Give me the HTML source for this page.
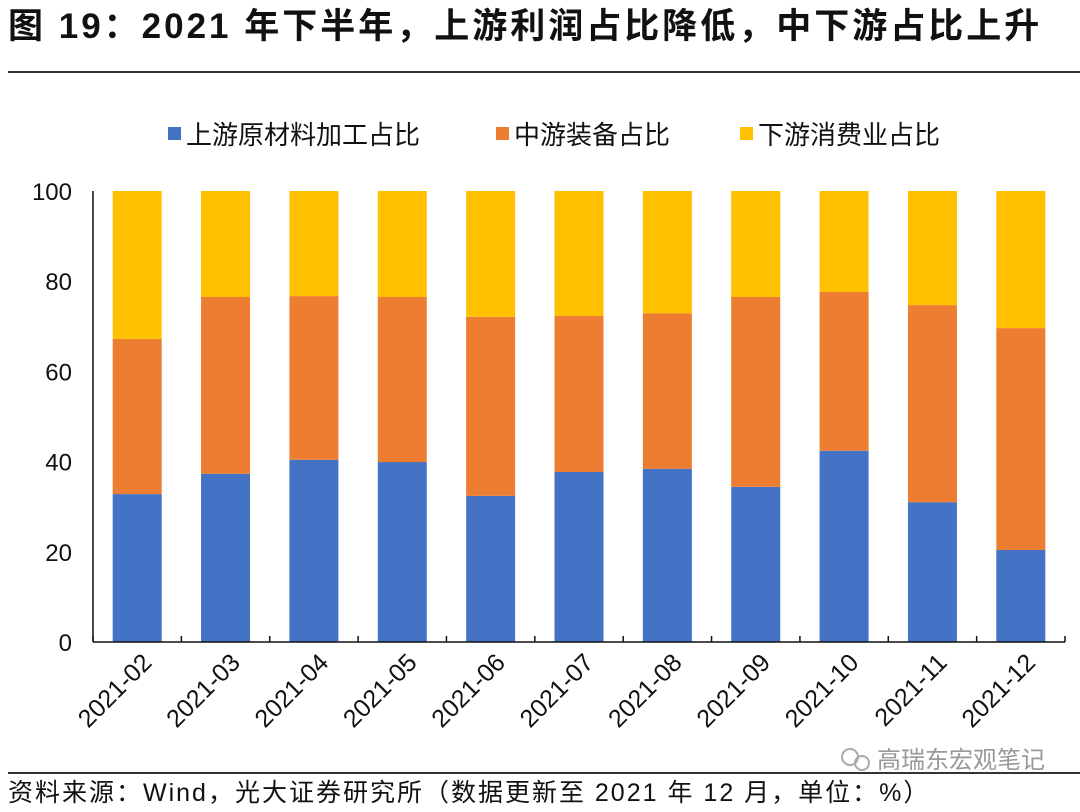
<!DOCTYPE html>
<html><head><meta charset="utf-8"><style>
body{margin:0;background:#fff;width:1080px;height:807px;overflow:hidden;font-family:"Liberation Sans","Noto Sans CJK SC",sans-serif;}
</style></head><body>
<svg width="1080" height="807" xmlns="http://www.w3.org/2000/svg" style="font-family:'Liberation Sans','Noto Sans CJK SC',sans-serif">
<text x="8" y="38" font-size="35" font-weight="bold" fill="#111" letter-spacing="3">图 19：2021 年下半年，上游利润占比降低，中下游占比上升</text>
<line x1="8" y1="72" x2="1080" y2="72" stroke="#333" stroke-width="2"/>
<g id="legend">
<rect x="168" y="127" width="13" height="13" fill="#4472C4"/>
<text x="186" y="144" font-size="26" fill="#111">上游原材料加工占比</text>
<rect x="496" y="127" width="13" height="13" fill="#ED7D31"/>
<text x="514" y="144" font-size="26" fill="#111">中游装备占比</text>
<rect x="740" y="127" width="13" height="13" fill="#FFC000"/>
<text x="758" y="144" font-size="26" fill="#111">下游消费业占比</text>
</g>
<g id="plot"></g>
<line x1="8" y1="773" x2="1080" y2="773" stroke="#333" stroke-width="2"/>
<text x="8" y="801" font-size="25" fill="#111" letter-spacing="2">资料来源：Wind，光大证券研究所（数据更新至 2021 年 12 月，单位：%）</text>
<g>
<circle cx="850" cy="757" r="8" fill="none" stroke="#aaa" stroke-width="2"/>
<circle cx="862" cy="763" r="7" fill="none" stroke="#aaa" stroke-width="2"/>
<text x="877" y="768" font-size="24" fill="#999">高瑞东宏观笔记</text>
</g>
</svg>
<script>
const categories=["2021-02","2021-03","2021-04","2021-05","2021-06","2021-07","2021-08","2021-09","2021-10","2021-11","2021-12"];
const upstream=[32.8,37.3,40.4,39.9,32.4,37.7,38.4,34.4,42.4,31.0,20.4];
const midstream=[34.4,39.2,36.3,36.6,39.7,34.6,34.5,42.1,35.2,43.7,49.2];
const downstream=[32.8,23.5,23.3,23.5,27.9,27.7,27.1,23.5,22.4,25.3,30.4];
const yTicks=[0,20,40,60,80,100];
const NS="http://www.w3.org/2000/svg";
const plot=document.getElementById('plot');
const x0=93,x1=1065,yb=642,yt=191,yMax=100;
const step=(x1-x0)/categories.length,bw=49;
const y=v=>yb-(v/yMax)*(yb-yt);
const xc=i=>x0+step*(i+0.5);
function mk(t,a){const e=document.createElementNS(NS,t);for(const k in a)e.setAttribute(k,a[k]);plot.appendChild(e);return e;}
yTicks.forEach(v=>{const t=mk('text',{x:72,y:y(v)+9,'font-size':24,'text-anchor':'end',fill:'#111'});t.textContent=v;

});
const series=[[upstream,'#4472C4','upstream'],[midstream,'#ED7D31','midstream'],[downstream,'#FFC000','downstream']];
categories.forEach((c,i)=>{let base=0;
series.forEach(([arr,col,nm])=>{const v=arr[i];const r=mk('rect',{x:xc(i)-bw/2,y:y(base+v),width:bw,height:y(base)-y(base+v),fill:col});


base+=v;});
const t=mk('text',{transform:`translate(${xc(i)+16},${yb+22}) rotate(-45)`,'font-size':25,'text-anchor':'end',fill:'#111'});t.textContent=c;


});
const ax=mk('line',{x1:x0,y1:yt,x2:x0,y2:yb,stroke:'#111','stroke-width':1.5});


const xa=mk('line',{x1:x0,y1:yb,x2:x1,y2:yb,stroke:'#111','stroke-width':1.5});


for(let i=0;i<=categories.length;i++){const tk=mk('line',{x1:x0+step*i,y1:yb,x2:x0+step*i,y2:yb-6,stroke:'#111','stroke-width':1.5});

}
</script>
</body></html>
